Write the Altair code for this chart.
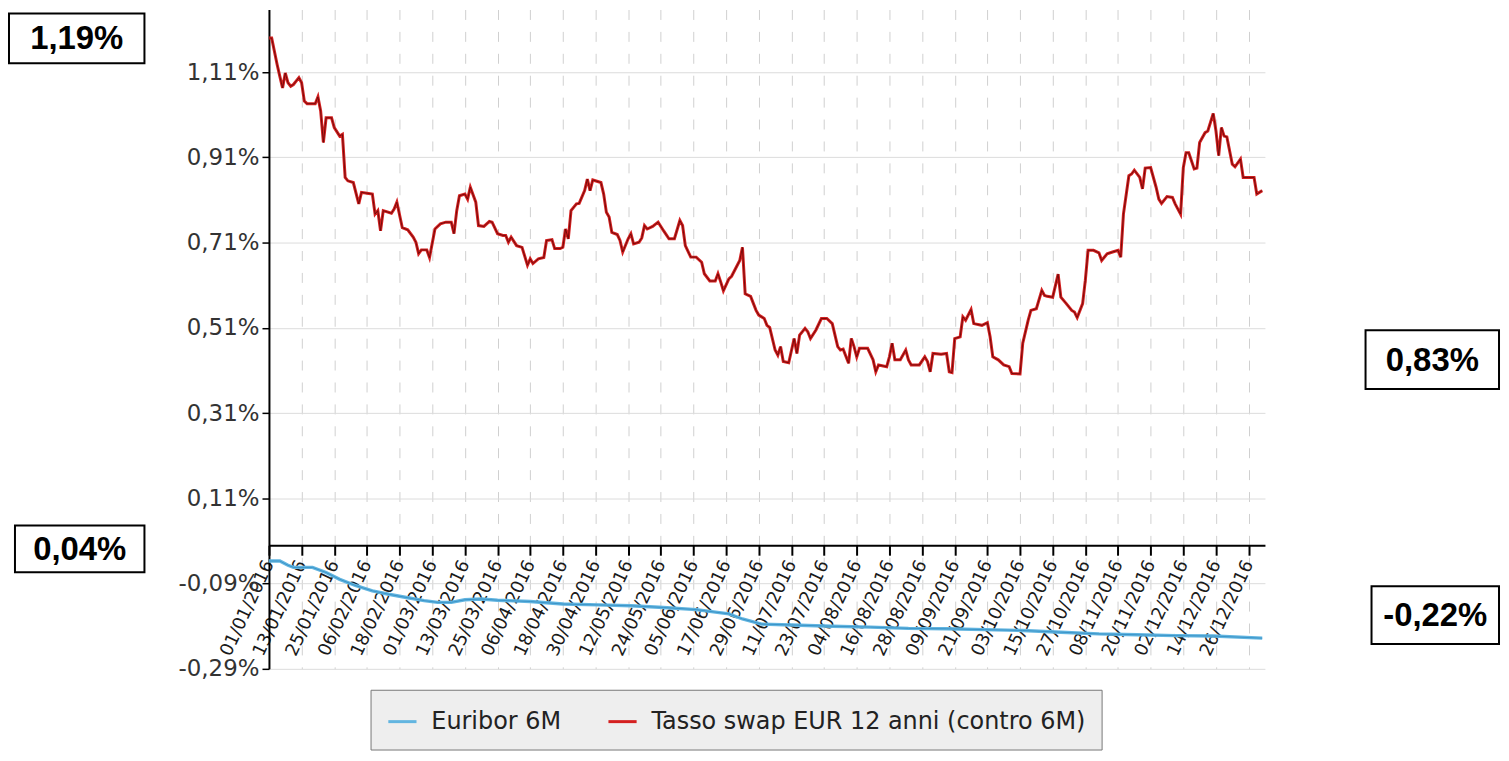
import altair as alt
import pandas as pd

# ---------------- data ----------------
serie_names = ["Euribor 6M", "Tasso swap EUR 12 anni (contro 6M)"]

# days since 01/01/2016
swap_days = [0, 1, 3, 4, 5, 6, 7, 8, 9, 11,
             12, 13, 14, 17, 18, 19, 20, 21, 23, 24,
             26, 27, 28, 29, 31, 33, 34, 36, 38, 39,
             40, 41, 42, 45, 46, 47, 49, 51, 53, 54,
             55, 56, 58, 59, 61, 63, 65, 67, 68, 69,
             70, 72, 73, 74, 76, 77, 79, 81, 82, 84,
             86, 87, 88, 89, 91, 93, 95, 96, 97, 99,
             101, 102, 104, 105, 107, 108, 109, 110, 111, 113,
             114, 116, 117, 118, 119, 122, 123, 124, 125, 126,
             128, 129, 130, 132, 133, 134, 136, 137, 138, 139,
             141, 143, 145, 147, 149, 151, 152, 153, 155, 157,
             159, 160, 162, 164, 165, 166, 167, 169, 170, 173,
             174, 175, 177, 179, 180, 182, 183, 184, 186, 187,
             188, 189, 191, 193, 194, 195, 197, 198, 199, 201,
             203, 205, 207, 209, 210, 211, 213, 214, 215, 216,
             217, 220, 222, 223, 224, 227, 228, 229, 230, 232,
             234, 235, 236, 239, 241, 242, 243, 244, 247, 249,
             250, 251, 252, 254, 255, 256, 258, 259, 262, 264,
             265, 266, 268, 270, 272, 273, 276, 277, 279, 280,
             282, 284, 285, 286, 288, 290, 291, 293, 295, 296,
             297, 299, 300, 301, 303, 305, 306, 308, 310, 312,
             313, 314, 316, 317, 318, 320, 321, 322, 324, 326,
             327, 328, 330, 332, 333, 335, 336, 337, 338, 340,
             341, 342, 344, 345, 347, 348, 349, 350, 351, 352,
             354, 355, 357, 358, 360, 362, 363, 365]
swap_vals = [1.19, 1.19, 1.128, 1.10, 1.073, 1.108, 1.085, 1.077, 1.081, 1.097,
             1.085, 1.042, 1.036, 1.036, 1.052, 1.019, 0.945, 1.003, 1.003, 0.98,
             0.96, 0.964, 0.863, 0.855, 0.851, 0.801, 0.828, 0.826, 0.824, 0.777,
             0.785, 0.738, 0.785, 0.779, 0.789, 0.805, 0.745, 0.74, 0.723, 0.711,
             0.684, 0.693, 0.693, 0.675, 0.742, 0.754, 0.758, 0.758, 0.731, 0.785,
             0.82, 0.824, 0.812, 0.84, 0.805, 0.75, 0.748, 0.76, 0.758, 0.731,
             0.727, 0.727, 0.711, 0.723, 0.703, 0.699, 0.657, 0.672, 0.661, 0.672,
             0.675, 0.715, 0.717, 0.696, 0.696, 0.699, 0.742, 0.719, 0.785, 0.801,
             0.802, 0.832, 0.859, 0.832, 0.857, 0.851, 0.824, 0.781, 0.77, 0.734,
             0.729, 0.715, 0.688, 0.719, 0.731, 0.707, 0.711, 0.721, 0.75, 0.742,
             0.748, 0.758, 0.738, 0.719, 0.719, 0.762, 0.75, 0.703, 0.676, 0.676,
             0.664, 0.637, 0.62, 0.62, 0.637, 0.618, 0.597, 0.625, 0.631, 0.668,
             0.699, 0.59, 0.584, 0.551, 0.54, 0.532, 0.516, 0.511, 0.458, 0.446,
             0.466, 0.431, 0.428, 0.485, 0.45, 0.493, 0.509, 0.501, 0.485, 0.505,
             0.532, 0.532, 0.52, 0.466, 0.458, 0.46, 0.427, 0.485, 0.466, 0.442,
             0.462, 0.462, 0.435, 0.407, 0.423, 0.419, 0.442, 0.474, 0.435, 0.435,
             0.458, 0.435, 0.423, 0.423, 0.442, 0.431, 0.407, 0.45, 0.448, 0.45,
             0.407, 0.405, 0.485, 0.489, 0.536, 0.528, 0.553, 0.52, 0.516, 0.522,
             0.489, 0.442, 0.435, 0.423, 0.419, 0.403, 0.402, 0.474, 0.528, 0.551,
             0.555, 0.598, 0.586, 0.584, 0.582, 0.636, 0.582, 0.567, 0.551, 0.547,
             0.534, 0.567, 0.622, 0.692, 0.692, 0.686, 0.668, 0.684, 0.688, 0.692,
             0.676, 0.777, 0.867, 0.871, 0.88, 0.863, 0.836, 0.885, 0.886, 0.84,
             0.812, 0.802, 0.818, 0.816, 0.801, 0.777, 0.886, 0.921, 0.921, 0.883,
             0.885, 0.945, 0.968, 0.972, 1.013, 0.972, 0.914, 0.98, 0.96, 0.958,
             0.894, 0.888, 0.906, 0.863, 0.863, 0.863, 0.824, 0.832]

euribor_days = [0, 4, 7, 9, 13, 16, 21, 26, 32, 38,
                44, 50, 57, 62, 67, 72, 78, 84, 96, 108,
                121, 133, 145, 157, 169, 174, 181, 192, 207, 221,
                235, 249, 263, 277, 291, 305, 319, 333, 347, 365]
euribor_vals = [-0.037, -0.037, -0.047, -0.052, -0.052, -0.052, -0.064, -0.08, -0.095, -0.107,
                -0.115, -0.122, -0.13, -0.134, -0.134, -0.128, -0.126, -0.129, -0.132, -0.138,
                -0.14, -0.142, -0.146, -0.151, -0.161, -0.173, -0.185, -0.187, -0.19, -0.192,
                -0.195, -0.196, -0.198, -0.2, -0.204, -0.208, -0.21, -0.212, -0.213, -0.218]

x_tick_labels = ["01/01/2016", "13/01/2016", "25/01/2016", "06/02/2016", "18/02/2016",
                 "01/03/2016", "13/03/2016", "25/03/2016", "06/04/2016", "18/04/2016",
                 "30/04/2016", "12/05/2016", "24/05/2016", "05/06/2016", "17/06/2016",
                 "29/06/2016", "11/07/2016", "23/07/2016", "04/08/2016", "16/08/2016",
                 "28/08/2016", "09/09/2016", "21/09/2016", "03/10/2016", "15/10/2016",
                 "27/10/2016", "08/11/2016", "20/11/2016", "02/12/2016", "14/12/2016",
                 "26/12/2016"]
y_ticks = [-0.29, -0.09, 0.11, 0.31, 0.51, 0.71, 0.91, 1.11]
y_domain = [-0.29, 1.257]
annotations = ["1,19%", "0,04%", "0,83%", "-0,22%"]

# ---------------- build tables ----------------
START = pd.Timestamp("2016-01-01")


def make_df(days, vals, name):
    return pd.DataFrame({
        "date": [(START + pd.Timedelta(days=d)).strftime("%Y-%m-%dT%H:%M:%S") for d in days],
        "value": vals,
        "serie": name,
    })


df_eur = make_df(euribor_days, euribor_vals, serie_names[0])
df_swap = make_df(swap_days, swap_vals, serie_names[1])

tick_values = []
for lab in x_tick_labels:
    d, m, y = (int(p) for p in lab.split("/"))
    tick_values.append(alt.DateTime(year=y, month=m, date=d))

W, H = 1000, 662
x_offset = -H * (0 - y_domain[0]) / (y_domain[1] - y_domain[0])

BLUE = "#62b5e0"
RED = "#d42020"

x_enc = alt.X(
    "date:T",
    scale=alt.Scale(domain=[alt.DateTime(year=2016, month=1, date=1),
                            alt.DateTime(year=2017, month=1, date=1)], nice=False),
    axis=alt.Axis(
        values=tick_values, tickCount=60, format="%d/%m/%Y", title=None,
        labelAngle=-65, labelAlign="right", labelBaseline="middle",
        labelFontSize=18, labelFont="DejaVu Sans", labelColor="#1a1a1a",
        labelOverlap=False, labelFlush=False, labelBound=False, labelPadding=6,
        tickColor="black", tickWidth=2, tickSize=10,
        domainColor="black", domainWidth=2,
        grid=True, gridDash=[10, 12], gridColor="#d0d0d0", gridWidth=1,
        offset=x_offset,
    ),
)
y_enc = alt.Y(
    "value:Q",
    scale=alt.Scale(domain=y_domain, nice=False, zero=False),
    axis=alt.Axis(
        values=y_ticks, title=None,
        labelExpr="(datum.value < 0 ? '-' : '') + replace(format(abs(datum.value), '.2f'), '.', ',') + '%'",
        labelFontSize=23, labelFont="DejaVu Sans", labelColor="#333333", labelPadding=3,
        tickColor="black", tickWidth=1.5, tickSize=7,
        domainColor="black", domainWidth=2,
        grid=True, gridColor="#dcdcdc", gridWidth=1,
    ),
)
color_enc = alt.Color(
    "serie:N",
    scale=alt.Scale(domain=serie_names, range=[BLUE, RED]),
    legend=alt.Legend(
        orient="none", legendX=102, legendY=683, direction="horizontal", title=None,
        fillColor="#eeeeee", strokeColor="#777777", padding=16,
        symbolType="stroke", symbolStrokeWidth=3, symbolSize=800,
        labelFontSize=24, labelFont="DejaVu Sans", labelColor="#222222", labelLimit=1000,
        columnPadding=40, labelOffset=13,
    ),
)

eur_outer = alt.Chart(df_eur).mark_line(strokeWidth=3.4).encode(x=x_enc, y=y_enc, color=color_enc)
eur_core = alt.Chart(df_eur).mark_line(strokeWidth=1, color="#3a93c8").encode(x="date:T", y="value:Q")
swap_outer = alt.Chart(df_swap).mark_line(strokeWidth=3).encode(x="date:T", y="value:Q", color=color_enc)
swap_core = alt.Chart(df_swap).mark_line(strokeWidth=0.9, color="#6a0808").encode(x="date:T", y="value:Q")


def box(text, x0, y0, x1, y1):
    d = pd.DataFrame({"t": [text]})
    r = alt.Chart(d).mark_rect(fill="white", stroke="black", strokeWidth=2).encode(
        x=alt.value(x0), x2=alt.value(x1), y=alt.value(y0), y2=alt.value(y1))
    t = alt.Chart(d).mark_text(font="Liberation Sans", fontWeight="bold", fontSize=33,
                               color="black", align="center", baseline="middle").encode(
        text="t:N", x=alt.value((x0 + x1) / 2), y=alt.value((y0 + y1) / 2 + 1))
    return [r, t]


ann_layers = []
ann_layers += box(annotations[0], -261, 4, -125, 54)
ann_layers += box(annotations[1], -255, 518, -125, 565)
ann_layers += box(annotations[2], 1101, 322, 1235, 381)
ann_layers += box(annotations[3], 1107, 579, 1235, 637)

chart = alt.layer(eur_outer, eur_core, swap_outer, swap_core, *ann_layers).properties(
    width=W, height=H,
    autosize=alt.AutoSizeParams(type="none"),
    padding={"left": 262, "top": 0, "right": 237, "bottom": 85},
).configure_view(strokeWidth=0)

chart.save("out.html", embed_options={"renderer": "svg", "actions": False})
